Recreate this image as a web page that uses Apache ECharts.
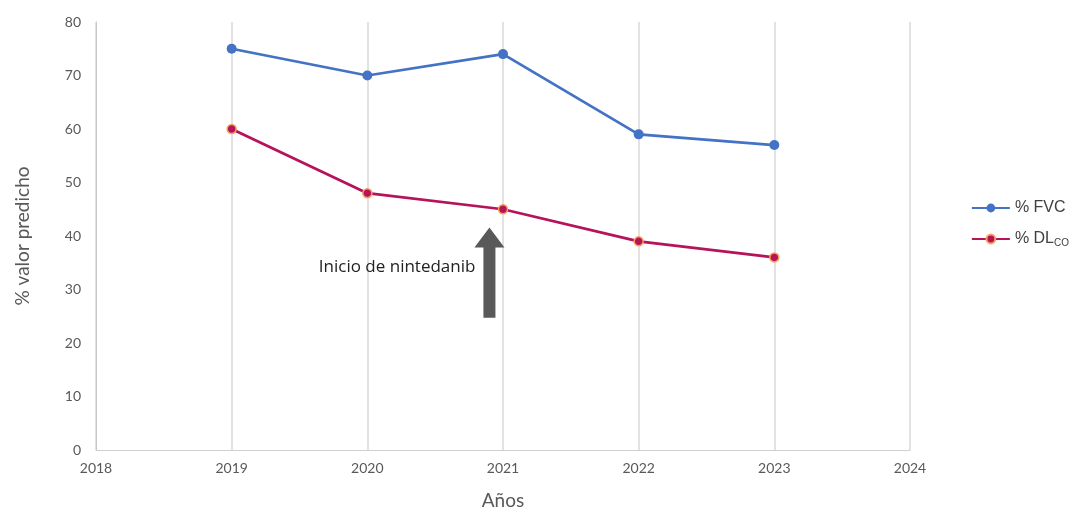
<!DOCTYPE html>
<html>
<head>
<meta charset="utf-8">
<script src="https://cdn.jsdelivr.net/npm/echarts@6/dist/echarts.min.js"></script>
<style>
  html, body { margin: 0; padding: 0; background: #fff; }
  #chart { width: 1074px; height: 510px; }
</style>
</head>
<body>
<div id="chart"></div>
<script>
// datos
const years = [2019, 2020, 2021, 2022, 2023]
const fvc = [75, 70, 74, 59, 57]
const dlco = [60, 48, 45, 39, 36]

// flecha "Inicio de nintedanib" en coordenadas de datos
const arrowYear = 2020.9
const arrowFrom = 24.7
const arrowTo = 41.6
const noteText = 'Inicio de nintedanib'

const font = 'Lato, "Noto Sans", sans-serif'
const myChart = echarts.init(document.getElementById('chart'))

const option = {
  animation: false,
  grid: { left: 96, right: 164, top: 22, bottom: 60, outerBoundsMode: 'none', containLabel: false },
  legend: {
    orient: 'vertical',
    right: 0,
    top: 195,
    itemGap: 15,
    itemWidth: 38,
    itemHeight: 11,
    textStyle: {
      fontFamily: '"Liberation Sans", Arial, sans-serif',
      fontSize: 16,
      color: '#404040',
      rich: {
        sub: { fontSize: 10, verticalAlign: 'bottom', padding: [9, 0, 0, 0], color: '#404040' },
      },
    },
    formatter: (name) => (name === '% DLCO' ? '% DL{sub|CO}' : name),
    data: ['% FVC', '% DLCO'],
  },
  xAxis: {
    type: 'value',
    min: 2018,
    max: 2024,
    interval: 1,
    name: 'Años',
    nameLocation: 'middle',
    nameGap: 41,
    nameTextStyle: { fontFamily: font, fontSize: 19, color: '#595959' },
    axisLine: { show: true, lineStyle: { color: '#d0d0d0', width: 1 } },
    axisTick: { show: false },
    axisLabel: { fontFamily: font, fontSize: 14, color: '#595959', margin: 11, formatter: (v) => String(v) },
    splitLine: { show: true, lineStyle: { color: '#d9d9d9', width: 1.5 } },
  },
  yAxis: {
    type: 'value',
    min: 0,
    max: 80,
    interval: 10,
    name: '% valor predicho',
    nameLocation: 'middle',
    nameGap: 64,
    nameRotate: 90,
    nameTextStyle: { fontFamily: font, fontSize: 19, color: '#595959' },
    axisLine: { show: true, lineStyle: { color: '#c8c8c8', width: 1 } },
    axisTick: { show: false },
    axisLabel: { fontFamily: font, fontSize: 14, color: '#595959', margin: 15 },
    splitLine: { show: false },
  },
  series: [
    {
      name: '% FVC',
      type: 'line',
      data: years.map((y, i) => [y, fvc[i]]),
      symbol: 'circle',
      symbolSize: 10,
      lineStyle: { color: '#4472c4', width: 2.75 },
      itemStyle: { color: '#4472c4' },
      z: 3,
    },
    {
      name: '% DLCO',
      type: 'line',
      data: years.map((y, i) => [y, dlco[i]]),
      symbol: 'circle',
      symbolSize: 9,
      lineStyle: { color: '#b5135a', width: 2.75 },
      itemStyle: { color: '#b5135a', borderColor: '#f6a25a', borderWidth: 1.5 },
      z: 3,
    },
  ],
}

myChart.setOption(option)

// flecha y texto de la anotación, posicionados con la escala del gráfico
const tip = myChart.convertToPixel({ gridIndex: 0 }, [arrowYear, arrowTo])
const tail = myChart.convertToPixel({ gridIndex: 0 }, [arrowYear, arrowFrom])
const mid = myChart.convertToPixel({ gridIndex: 0 }, [arrowYear, (arrowFrom + arrowTo) / 2 + 1])
const shaftW = 6
const headW = 15
const headH = 20
myChart.setOption({
  graphic: [
    {
      type: 'polygon',
      z: 10,
      shape: {
        points: [
          [tip[0], tip[1]],
          [tip[0] + headW, tip[1] + headH],
          [tip[0] + shaftW, tip[1] + headH],
          [tail[0] + shaftW, tail[1]],
          [tail[0] - shaftW, tail[1]],
          [tip[0] - shaftW, tip[1] + headH],
          [tip[0] - headW, tip[1] + headH],
        ],
      },
      style: { fill: '#595959' },
    },
    {
      type: 'text',
      z: 10,
      x: tip[0] - 14,
      y: mid[1],
      style: {
        text: noteText,
        fontFamily: '"Open Sans", "Noto Sans", sans-serif',
        fontSize: 17,
        fill: '#222',
        align: 'right',
        verticalAlign: 'middle',
      },
    },
  ],
})
</script>
</body>
</html>
